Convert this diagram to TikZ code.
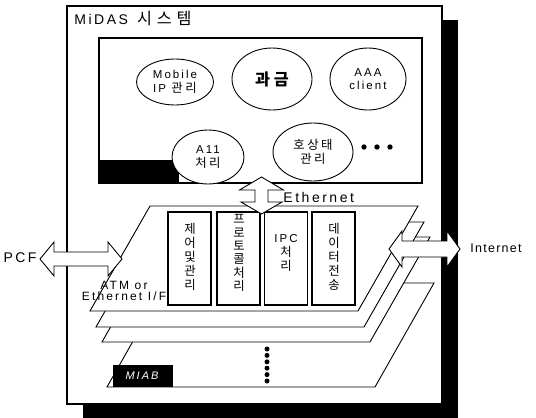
\documentclass[tikz,border=0pt]{standalone}
\usepackage{fontspec}
\setmainfont{Liberation Sans}[LetterSpace=18]
\newfontfamily\kr{Noto Sans CJK KR}[LetterSpace=20, Scale=1.08]
\usetikzlibrary{shapes.geometric}
\newcommand\fsz[2]{\fontsize{#1}{#2}\selectfont}
\tikzset{
  bub/.style={ellipse, draw, fill=white, line width=0.9pt, inner sep=0pt, align=center, font=\fsz{11.5}{13.5}},
  modbox/.style={draw, fill=white, line width=1.3pt, minimum width=43pt, minimum height=93pt, inner sep=0pt},
  modtxt/.style={align=center, font=\fsz{11.5}{14}\kr, inner sep=0pt},
  layer/.style={draw, fill=white, line width=0.9pt},
  blockarrow/.style={draw, fill=white, line width=0.9pt, line join=miter},
  lbl/.style={inner sep=0pt},
  dotmark/.style={circle, fill=black, inner sep=0pt, minimum size=5.4pt}
}
\begin{document}
\begin{tikzpicture}[x=1pt,y=-1pt,line width=0.9pt]
\useasboundingbox (0,0) rectangle (536,418);
\fill[white] (0,0) rectangle (536,418);
% shadow and main box
\fill[black] (83,20) rectangle (458,418);
\draw[fill=white, line width=1.3pt] (67,6) rectangle (442,404);
\node[lbl, anchor=west, font=\fsz{14}{16}] (title) at (74,18) {MiDAS\hspace{9pt}{\kr\fsz{15}{16}\addfontfeature{LetterSpace=30}시스템}};
% upper box
\draw[line width=1.1pt] (99,38) rectangle (422,183);
\fill[black] (99,160) rectangle (179,183);
\node[bub, minimum width=77pt, minimum height=46pt] (mip) at (175,82) {Mobile\\IP {\kr 관리}};
\node[bub, minimum width=80pt, minimum height=62pt, font=\fsz{15}{17}] (kg) at (272,79) {{\kr\bfseries 과\kern4pt 금}};
\node[bub, minimum width=76pt, minimum height=62pt] (aaa) at (368,79) {AAA\\client};
\node[bub, minimum width=72pt, minimum height=54pt] (a11) at (208,157) {A11\\{\kr 처리}};
\node[bub, minimum width=80pt, minimum height=58pt] (hs) at (313,152) {{\kr 호상태}\\{\kr 관리}};
\node[dotmark] (d1) at (364,147) {};
\node[dotmark] (d2) at (377,147) {};
\node[dotmark] (d3) at (390,147) {};
% layers
\draw[layer] (107,387) -- (375,387) -- (434,283) -- (166,283) -- cycle;
\draw[layer] (102,342) -- (370,342) -- (430,237) -- (162,237) -- cycle;
\draw[layer] (96,327) -- (364,327) -- (424,222) -- (156,222) -- cycle;
\draw[layer] (90,311) -- (358,311) -- (418,206) -- (150,206) -- cycle;
% modules
\node[modbox] (m1) at (189.5,258.5) {};
\node[modbox] (m2) at (238.5,258.5) {};
\node[modbox] (m3) at (286,258.5) {};
\node[modbox] (m4) at (333.5,258.5) {};
\node[modtxt] (t1) at (190,257) {제\\어\\및\\관\\리};
\node[modtxt, font=\fsz{11.5}{13.3}\kr] (t2) at (239,253) {프\\로\\토\\콜\\처\\리};
\node[modtxt] (t3) at (286,253) {{\rmfamily IPC}\\처\\리};
\node[modtxt] (t4) at (334,257) {데\\이\\터\\전\\송};
% bottom board
\fill[black] (113,365) rectangle (173,387);
\node[lbl, text=white, font=\fsz{11}{13}\itshape] (miab) at (142,376) {MIAB};
\foreach \i in {0,...,5}{\node[dotmark, minimum size=5pt] (v\i) at (267,349+6.4*\i) {};}
% block arrows
\draw[blockarrow] (261.5,177) -- (283.5,190) -- (268,190) -- (268,202) -- (282,202) -- (261.5,214) -- (241,202) -- (255,202) -- (255,190) -- (239.5,190) -- cycle;
\draw[blockarrow] (40,259) -- (54,242) -- (54,252) -- (108,252) -- (108,242) -- (122,259) -- (108,276) -- (108,266) -- (54,266) -- (54,276) -- cycle;
\draw[blockarrow] (389,249) -- (402,231) -- (402,241) -- (447,241) -- (447,231) -- (460,249) -- (447,267) -- (447,257) -- (402,257) -- (402,267) -- cycle;
% labels
\node[lbl, anchor=west, font=\fsz{14}{16}] (eth) at (283,197) {Ethernet};
\node[lbl, anchor=east, font=\fsz{14}{16}] (pcf) at (37,258) {PCF};
\node[lbl, anchor=west, font=\fsz{12.5}{15}\addfontfeature{LetterSpace=10}] (inet) at (470,248) {Internet};
\node[lbl, align=center, font=\fsz{12}{11.5}] (atm) at (124,291) {ATM or\\Ethernet I/F};
\end{tikzpicture}
\end{document}
